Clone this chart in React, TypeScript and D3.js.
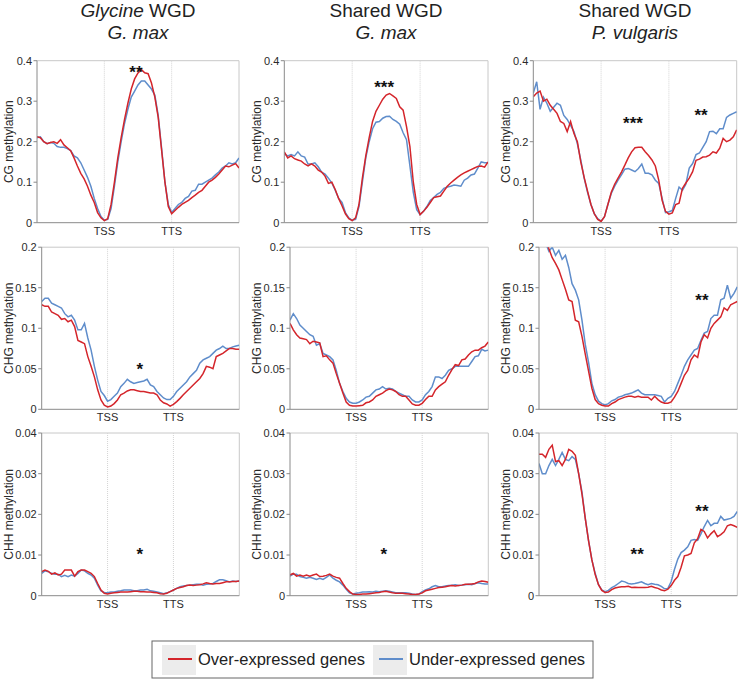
import React from "react";
import * as d3 from "d3";

const W = 739;
const H = 685;
const FONT = "'Liberation Sans', Arial, Helvetica, sans-serif";
const RED = "#d4252b";
const BLUE = "#5f8dcb";

// ---------- categories / ticks ----------
const contexts = ["CG", "CHG", "CHH"];
const yMaxByContext = [0.4, 0.2, 0.04];
const yTicksCG = [0, 0.1, 0.2, 0.3, 0.4];
const yTicksCHG = [0, 0.05, 0.1, 0.15, 0.2];
const yTicksCHH = [0, 0.01, 0.02, 0.03, 0.04];
const xTickPositions = [20, 40];
const xTickLabels = ["TSS", "TTS"];
const binCount = 61; // bins 0..60 (20 upstream, 20 gene body, 20 downstream)
const seriesNames = ["Over-expressed genes", "Under-expressed genes"];

// ---------- CG ----------
const cgGlyOver = [0.212,0.21,0.2,0.195,0.198,0.2,0.196,0.205,0.192,0.185,0.178,0.16,0.14,0.122,0.108,0.09,0.068,0.05,0.025,0.012,0.005,0.01,0.045,0.1,0.16,0.21,0.255,0.295,0.33,0.355,0.37,0.378,0.37,0.368,0.345,0.31,0.26,0.18,0.1,0.04,0.022,0.03,0.038,0.045,0.05,0.055,0.062,0.068,0.075,0.08,0.09,0.1,0.105,0.112,0.12,0.13,0.14,0.138,0.142,0.146,0.135];
const cgGlyUnder = [0.21,0.212,0.2,0.195,0.198,0.196,0.188,0.186,0.186,0.183,0.178,0.165,0.16,0.148,0.13,0.112,0.09,0.06,0.035,0.015,0.006,0.008,0.035,0.09,0.15,0.2,0.245,0.28,0.31,0.325,0.34,0.35,0.35,0.34,0.33,0.315,0.265,0.185,0.1,0.045,0.025,0.035,0.045,0.05,0.06,0.065,0.078,0.08,0.095,0.095,0.1,0.105,0.11,0.118,0.125,0.135,0.14,0.148,0.145,0.148,0.16];
const cgSharedOver = [0.175,0.16,0.165,0.158,0.155,0.152,0.145,0.14,0.145,0.14,0.13,0.125,0.115,0.097,0.1,0.082,0.06,0.042,0.022,0.01,0.005,0.012,0.045,0.11,0.165,0.21,0.25,0.275,0.29,0.305,0.315,0.319,0.313,0.307,0.286,0.278,0.237,0.188,0.1,0.045,0.02,0.028,0.038,0.05,0.062,0.064,0.066,0.078,0.09,0.098,0.105,0.112,0.118,0.123,0.127,0.131,0.135,0.139,0.14,0.137,0.15];
const cgSharedUnder = [0.17,0.165,0.168,0.165,0.175,0.165,0.162,0.145,0.145,0.148,0.138,0.125,0.12,0.11,0.098,0.08,0.06,0.05,0.025,0.012,0.006,0.008,0.04,0.1,0.16,0.2,0.232,0.248,0.25,0.258,0.262,0.263,0.255,0.25,0.243,0.222,0.205,0.14,0.075,0.032,0.02,0.028,0.04,0.055,0.062,0.07,0.075,0.085,0.088,0.09,0.093,0.092,0.09,0.105,0.11,0.118,0.12,0.135,0.15,0.148,0.148];
const cgPvOver = [0.311,0.32,0.325,0.3,0.305,0.29,0.28,0.27,0.25,0.245,0.225,0.25,0.22,0.2,0.15,0.112,0.078,0.045,0.022,0.008,0.003,0.015,0.045,0.075,0.095,0.11,0.125,0.142,0.16,0.175,0.185,0.186,0.186,0.175,0.166,0.155,0.14,0.105,0.055,0.028,0.021,0.024,0.045,0.048,0.085,0.098,0.11,0.126,0.154,0.157,0.162,0.163,0.167,0.175,0.172,0.184,0.208,0.2,0.204,0.212,0.229];
const cgPvUnder = [0.32,0.348,0.28,0.31,0.295,0.275,0.285,0.295,0.29,0.265,0.255,0.24,0.225,0.195,0.155,0.11,0.075,0.045,0.022,0.01,0.004,0.015,0.045,0.072,0.09,0.105,0.118,0.132,0.134,0.13,0.126,0.134,0.145,0.122,0.122,0.118,0.105,0.097,0.06,0.025,0.027,0.03,0.06,0.088,0.08,0.095,0.135,0.146,0.168,0.172,0.186,0.2,0.225,0.226,0.22,0.232,0.232,0.26,0.266,0.27,0.274];

// ---------- CHG ----------
const chgGlyOver = [0.129,0.127,0.127,0.12,0.118,0.116,0.111,0.112,0.108,0.11,0.102,0.085,0.083,0.081,0.065,0.053,0.04,0.024,0.0115,0.005,0.003,0.004,0.007,0.0115,0.018,0.02,0.0226,0.024,0.024,0.023,0.022,0.022,0.021,0.02,0.02,0.018,0.0115,0.008,0.0066,0.004,0.006,0.0095,0.0135,0.018,0.022,0.026,0.03,0.034,0.038,0.044,0.053,0.052,0.05,0.065,0.067,0.069,0.072,0.075,0.075,0.074,0.074];
const chgGlyUnder = [0.133,0.137,0.137,0.131,0.129,0.127,0.125,0.118,0.114,0.116,0.11,0.098,0.098,0.106,0.088,0.073,0.053,0.036,0.022,0.017,0.01,0.012,0.016,0.02,0.028,0.032,0.037,0.034,0.032,0.033,0.034,0.035,0.037,0.03,0.028,0.022,0.018,0.014,0.012,0.012,0.016,0.022,0.026,0.03,0.034,0.04,0.044,0.048,0.057,0.061,0.063,0.065,0.069,0.073,0.075,0.078,0.075,0.075,0.077,0.078,0.079];
const chgSharedOver = [0.106,0.098,0.092,0.088,0.087,0.086,0.081,0.084,0.083,0.082,0.065,0.066,0.061,0.057,0.044,0.032,0.02,0.009,0.005,0.004,0.004,0.0045,0.005,0.008,0.009,0.0115,0.016,0.018,0.02,0.023,0.025,0.024,0.022,0.018,0.016,0.016,0.0115,0.0066,0.005,0.005,0.0074,0.012,0.016,0.016,0.024,0.028,0.031,0.034,0.042,0.049,0.055,0.054,0.061,0.062,0.067,0.071,0.073,0.073,0.076,0.078,0.083];
const chgSharedUnder = [0.11,0.118,0.112,0.104,0.1,0.096,0.092,0.09,0.079,0.081,0.069,0.067,0.065,0.061,0.048,0.032,0.022,0.0135,0.009,0.0074,0.0074,0.009,0.0115,0.015,0.016,0.02,0.024,0.025,0.028,0.025,0.026,0.025,0.022,0.02,0.018,0.016,0.016,0.0115,0.009,0.009,0.0115,0.018,0.022,0.028,0.04,0.04,0.038,0.042,0.048,0.05,0.053,0.053,0.053,0.053,0.053,0.059,0.065,0.066,0.074,0.072,0.073];
const chgPvOver = [0.24,0.225,0.21,0.198,0.187,0.18,0.172,0.16,0.148,0.135,0.133,0.11,0.108,0.09,0.068,0.047,0.026,0.012,0.007,0.005,0.004,0.004,0.007,0.009,0.012,0.0135,0.015,0.016,0.016,0.015,0.016,0.015,0.015,0.015,0.0115,0.016,0.012,0.009,0.0074,0.0074,0.009,0.015,0.022,0.032,0.042,0.048,0.061,0.067,0.064,0.083,0.092,0.088,0.1,0.106,0.11,0.114,0.125,0.122,0.129,0.131,0.133];
const chgPvUnder = [0.25,0.23,0.205,0.195,0.2,0.19,0.196,0.185,0.19,0.175,0.155,0.147,0.135,0.11,0.08,0.058,0.032,0.018,0.01,0.007,0.0055,0.007,0.0105,0.012,0.015,0.016,0.018,0.019,0.02,0.022,0.024,0.02,0.018,0.018,0.018,0.018,0.017,0.016,0.009,0.0135,0.016,0.022,0.032,0.042,0.053,0.061,0.067,0.073,0.075,0.085,0.094,0.096,0.112,0.116,0.116,0.135,0.137,0.153,0.137,0.143,0.151];

// ---------- CHH ----------
const chhGlyOver = [0.0059,0.0063,0.006,0.0053,0.0056,0.0051,0.0053,0.0063,0.0063,0.0063,0.0048,0.0059,0.0063,0.0063,0.0059,0.0055,0.0047,0.003,0.0014,0.0006,0.0004,0.0006,0.0007,0.0008,0.0009,0.0009,0.0009,0.001,0.0011,0.0011,0.001,0.001,0.0009,0.0009,0.0008,0.0007,0.0005,0.0004,0.0006,0.001,0.0014,0.0018,0.002,0.0022,0.0025,0.0026,0.0025,0.0026,0.0027,0.0029,0.0032,0.003,0.0029,0.003,0.003,0.0032,0.0034,0.0034,0.0035,0.0035,0.0036];
const chhGlyUnder = [0.0055,0.0061,0.0059,0.0055,0.0053,0.0053,0.0047,0.005,0.0047,0.0051,0.0048,0.0055,0.0063,0.0061,0.0055,0.0051,0.0043,0.0026,0.0012,0.0008,0.0007,0.0009,0.0009,0.0011,0.0012,0.0014,0.0014,0.0014,0.0012,0.0012,0.0014,0.0014,0.0016,0.0012,0.0011,0.0009,0.0007,0.0005,0.0007,0.001,0.0014,0.0018,0.0022,0.0024,0.0025,0.0026,0.0027,0.0028,0.0028,0.0026,0.0028,0.0029,0.003,0.0035,0.0039,0.0039,0.0037,0.0034,0.0036,0.0035,0.0036];
const chhSharedOver = [0.0051,0.0055,0.0048,0.0051,0.0048,0.0051,0.0048,0.0051,0.0053,0.0047,0.0048,0.005,0.0053,0.0048,0.0045,0.0043,0.003,0.0018,0.001,0.0004,0.0003,0.0003,0.0004,0.0004,0.0005,0.0006,0.0007,0.0008,0.001,0.0011,0.0009,0.0007,0.0006,0.0006,0.0006,0.0005,0.0004,0.0003,0.0003,0.0004,0.0007,0.0012,0.0014,0.0016,0.0018,0.002,0.0021,0.0022,0.0024,0.0025,0.0024,0.0025,0.0026,0.0028,0.0028,0.0029,0.003,0.0034,0.0036,0.0035,0.0033];
const chhSharedUnder = [0.0048,0.0053,0.0053,0.0047,0.0045,0.0043,0.0045,0.0043,0.004,0.0043,0.004,0.0045,0.0051,0.0043,0.0038,0.0034,0.0026,0.0016,0.0007,0.0004,0.0006,0.0007,0.0009,0.0009,0.001,0.0009,0.0011,0.001,0.0011,0.0012,0.0011,0.0009,0.0007,0.0007,0.0007,0.0007,0.0006,0.0004,0.0003,0.0004,0.001,0.0014,0.0017,0.0022,0.0025,0.0022,0.0022,0.0024,0.0025,0.0026,0.0027,0.0025,0.0026,0.0027,0.0028,0.0027,0.003,0.0032,0.003,0.0029,0.0029];
const chhPvOver = [0.0348,0.0348,0.034,0.036,0.037,0.033,0.0332,0.032,0.0335,0.036,0.0355,0.0345,0.03,0.025,0.019,0.0135,0.0088,0.0052,0.0027,0.0013,0.0008,0.0009,0.0015,0.0019,0.0021,0.0022,0.0022,0.0023,0.002,0.0021,0.002,0.002,0.002,0.0021,0.0023,0.002,0.0018,0.0014,0.0012,0.0016,0.0025,0.0038,0.0047,0.007,0.0098,0.01,0.0104,0.013,0.014,0.0163,0.0158,0.0142,0.0152,0.016,0.0145,0.015,0.0157,0.0172,0.0175,0.0172,0.0168];
const chhPvUnder = [0.0325,0.03,0.03,0.032,0.0335,0.032,0.0335,0.0352,0.0335,0.0332,0.0342,0.0335,0.03,0.0255,0.019,0.0135,0.0088,0.0055,0.0027,0.0014,0.001,0.0013,0.002,0.0024,0.003,0.0036,0.0034,0.003,0.0029,0.003,0.0032,0.0034,0.003,0.0027,0.003,0.0028,0.0027,0.0023,0.0017,0.0018,0.0035,0.0065,0.009,0.0106,0.0112,0.012,0.0136,0.0138,0.0136,0.0152,0.017,0.0185,0.0172,0.0178,0.0178,0.0195,0.0186,0.0188,0.019,0.0195,0.0207];

// ---------- significance marks (bin, value, label) ----------
const starsCG = [
  [{ x: 29.4, y: 0.382, t: "**" }],
  [{ x: 29.4, y: 0.345, t: "***" }],
  [{ x: 29.4, y: 0.256, t: "***" }, { x: 49.5, y: 0.276, t: "**" }],
];
const starsCHG = [
  [{ x: 29.8, y: 0.0547, t: "*" }],
  [],
  [{ x: 49.3, y: 0.14, t: "**" }],
];
const starsCHH = [
  [{ x: 29.8, y: 0.0112, t: "*" }],
  [{ x: 28.4, y: 0.0112, t: "*" }],
  [{ x: 29.7, y: 0.0112, t: "**" }, { x: 49.3, y: 0.0218, t: "**" }],
];

const seriesGrid = [
  [[cgGlyOver, cgGlyUnder], [cgSharedOver, cgSharedUnder], [cgPvOver, cgPvUnder]],
  [[chgGlyOver, chgGlyUnder], [chgSharedOver, chgSharedUnder], [chgPvOver, chgPvUnder]],
  [[chhGlyOver, chhGlyUnder], [chhSharedOver, chhSharedUnder], [chhPvOver, chhPvUnder]],
];
const yTicksGrid = [yTicksCG, yTicksCHG, yTicksCHH];
const starsGrid = [starsCG, starsCHG, starsCHH];

// ---------- layout ----------
const rowTop = [60.7, 247.2, 433];
const rowBottom = [222.7, 409.3, 595.7];
const colLeft = [
  [37, 284.3, 533.3],
  [41.7, 290, 539],
  [41.7, 290, 539],
];
const colRight = [
  [239, 488, 736.7],
  [239.3, 488.3, 737.3],
  [239.3, 488.3, 737.3],
];
const yLabelX = [12.5, 260.5, 509.5];

function Panel({ r, c }: { r: number; c: number }) {
  const x0 = colLeft[r][c];
  const x1 = colRight[r][c];
  const y0 = rowTop[r];
  const y1 = rowBottom[r];
  const xs = d3.scaleLinear().domain([0, binCount - 1]).range([x0, x1]);
  const ys = d3.scaleLinear().domain([0, yMaxByContext[r]]).range([y1, y0]);
  const line = d3
    .line<number>()
    .x((_, i) => xs(i))
    .y((d) => ys(d));
  const [over, under] = seriesGrid[r][c];
  const clipId = `clip-${r}-${c}`;
  return (
    <g>
      <defs>
        <clipPath id={clipId}>
          <rect x={x0} y={y0} width={x1 - x0} height={y1 - y0} />
        </clipPath>
      </defs>
      {/* frame */}
      <line x1={x0} x2={x1} y1={y0} y2={y0} stroke="#c8c8c8" strokeWidth={1} />
      <line x1={x1} x2={x1} y1={y0} y2={y1} stroke="#c8c8c8" strokeWidth={1} />
      {/* vertical reference lines */}
      {xTickPositions.map((p, i) => (
        <line
          key={i}
          x1={xs(p)}
          x2={xs(p)}
          y1={y0}
          y2={y1}
          stroke="#d4d4d4"
          strokeWidth={1}
          strokeDasharray="1 1"
        />
      ))}
      {/* series */}
      <g clipPath={`url(#${clipId})`}>
        <path d={line(under) || ""} fill="none" stroke={BLUE} strokeWidth={1.5} />
        <path d={line(over) || ""} fill="none" stroke={RED} strokeWidth={1.5} />
      </g>
      {/* axes */}
      <line x1={x0} x2={x0} y1={y0} y2={y1} stroke="#8a8a8a" strokeWidth={1} />
      <line x1={x0} x2={x1} y1={y1} y2={y1} stroke="#8a8a8a" strokeWidth={1} />
      {yTicksGrid[r].map((t, i) => (
        <g key={i}>
          <line x1={x0 - 3.5} x2={x0} y1={ys(t)} y2={ys(t)} stroke="#8a8a8a" strokeWidth={1} />
          <text
            x={x0 - 5}
            y={ys(t)}
            dy="0.36em"
            textAnchor="end"
            fontSize={11}
            fill="#2a2a2a"
          >
            {String(t)}
          </text>
        </g>
      ))}
      {xTickPositions.map((p, i) => (
        <text key={i} x={xs(p)} y={y1 + 12} textAnchor="middle" fontSize={11} fill="#2a2a2a">
          {xTickLabels[i]}
        </text>
      ))}
      <text
        transform={`translate(${yLabelX[c]},${(y0 + y1) / 2}) rotate(-90)`}
        textAnchor="middle"
        fontSize={12}
        fill="#2a2a2a"
      >
        {contexts[r] + " methylation"}
      </text>
      {starsGrid[r][c].map((s, i) => (
        <text
          key={i}
          x={xs(s.x)}
          y={ys(s.y) + 10}
          textAnchor="middle"
          fontSize={17}
          fontWeight="bold"
          fill="#111"
        >
          {s.t}
        </text>
      ))}
    </g>
  );
}

const titleCenters = [138, 386, 635];

export default function App() {
  return (
    <svg
      width={W}
      height={H}
      style={{ position: "absolute", left: 0, top: 0, fontFamily: FONT, background: "#fff" }}
    >
      <rect x={0} y={0} width={W} height={H} fill="#fff" />
      {/* titles */}
      <text x={titleCenters[0]} y={17} textAnchor="middle" fontSize={19} fill="#222">
        <tspan fontStyle="italic">Glycine</tspan>
        <tspan> WGD</tspan>
      </text>
      <text x={titleCenters[0]} y={39} textAnchor="middle" fontSize={19} fontStyle="italic" fill="#222">
        G. max
      </text>
      <text x={titleCenters[1]} y={17} textAnchor="middle" fontSize={19} fill="#222">
        Shared WGD
      </text>
      <text x={titleCenters[1]} y={39} textAnchor="middle" fontSize={19} fontStyle="italic" fill="#222">
        G. max
      </text>
      <text x={titleCenters[2]} y={17} textAnchor="middle" fontSize={19} fill="#222">
        Shared WGD
      </text>
      <text x={titleCenters[2]} y={39} textAnchor="middle" fontSize={19} fontStyle="italic" fill="#222">
        P. vulgaris
      </text>

      {[0, 1, 2].map((r) => [0, 1, 2].map((c) => <Panel key={`${r}-${c}`} r={r} c={c} />))}

      {/* legend */}
      <rect x={152} y={641} width={441} height={37} fill="#fff" stroke="#666" strokeWidth={1} />
      <rect x={162} y={645} width={34} height={30} fill="#ececec" />
      <line x1={168} x2={192} y1={659} y2={659} stroke={RED} strokeWidth={2} />
      <text x={198} y={665} fontSize={16.5} fill="#222">
        {seriesNames[0]}
      </text>
      <rect x={373} y={645} width={34} height={30} fill="#ececec" />
      <line x1={379} x2={403} y1={659} y2={659} stroke={BLUE} strokeWidth={2} />
      <text x={409} y={665} fontSize={16.5} fill="#222">
        {seriesNames[1]}
      </text>
    </svg>
  );
}
